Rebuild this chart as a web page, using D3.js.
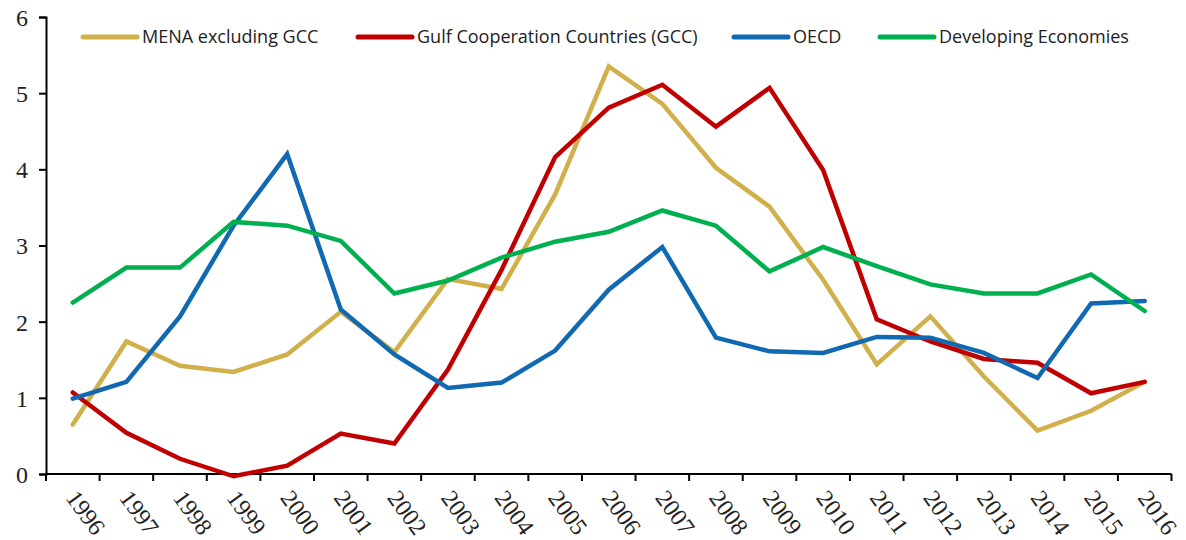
<!DOCTYPE html>
<html>
<head>
<meta charset="utf-8">
<script src="https://cdn.jsdelivr.net/npm/d3@7"></script>
<style>
  body { margin: 0; background: #fff; }
  svg { display: block; }
</style>
</head>
<body>
<svg id="chart" width="1186" height="540"></svg>
<script>
// years on the x axis
var years = ["1996","1997","1998","1999","2000","2001","2002","2003","2004","2005","2006",
             "2007","2008","2009","2010","2011","2012","2013","2014","2015","2016"];

var menaExGcc = [0.65,1.74,1.42,1.34,1.57,2.13,1.60,2.56,2.43,3.67,5.35,4.86,4.02,3.51,2.55,1.44,2.07,1.28,0.57,0.83,1.21];
var gcc       = [1.07,0.54,0.20,-0.03,0.11,0.53,0.40,1.37,2.68,4.16,4.81,5.11,4.56,5.07,3.99,2.03,1.74,1.51,1.46,1.06,1.21];
var oecd      = [0.99,1.21,2.07,3.26,4.20,2.16,1.57,1.13,1.20,1.62,2.42,2.98,1.79,1.61,1.59,1.80,1.79,1.59,1.26,2.24,2.27];
var developing= [2.25,2.71,2.71,3.31,3.26,3.06,2.37,2.54,2.84,3.05,3.18,3.46,3.26,2.66,2.98,2.73,2.49,2.37,2.37,2.62,2.14];

var yTicks = [0,1,2,3,4,5,6];

var series = [
  {name: "MENA excluding GCC", values: menaExGcc, color: "#D1B04C", lx: 83},
  {name: "Gulf Cooperation Countries (GCC)", values: gcc, color: "#C00000", lx: 358},
  {name: "OECD", values: oecd, color: "#1069B1", lx: 734},
  {name: "Developing Economies", values: developing, color: "#00B050", lx: 880}
];

var svg = d3.select("#chart");
// note: "top" is a window property, so use other names
var plotLeft = 46, plotRight = 1171.5, plotTop = 17, plotBottom = 474;

var x = d3.scaleBand().domain(years).range([plotLeft, plotRight]);
var y = d3.scaleLinear().domain([0, 6]).range([plotBottom, plotTop]);

// y axis
var yAxis = svg.append("g")
  .attr("transform", "translate(" + plotLeft + ",0)")
  .call(d3.axisLeft(y).tickValues(yTicks).tickSize(7).tickPadding(11).tickFormat(d3.format("d")));
yAxis.select(".domain").attr("stroke", "#000").attr("stroke-width", 2);
yAxis.selectAll(".tick line").attr("stroke", "#000").attr("stroke-width", 2);
yAxis.selectAll("text")
  .style("font-family", "'Liberation Serif', 'DejaVu Serif', serif")
  .style("font-size", "24px")
  .attr("fill", "#222")
  .attr("dy", "0.35em");

// x axis with ticks at category boundaries
var xAxis = svg.append("g")
  .attr("transform", "translate(0," + plotBottom + ")");
xAxis.append("line")
  .attr("x1", plotLeft).attr("x2", plotRight)
  .attr("stroke", "#000").attr("stroke-width", 2);
var bounds = years.map(function(d){ return x(d); }).concat([plotRight]);
xAxis.selectAll(".xtick")
  .data(bounds)
  .enter()
  .append("line")
  .attr("class", "xtick")
  .attr("x1", function(d){ return d; })
  .attr("x2", function(d){ return d; })
  .attr("y1", 0).attr("y2", 7)
  .attr("stroke", "#000").attr("stroke-width", 2);
xAxis.selectAll(".xlabel")
  .data(years)
  .enter()
  .append("text")
  .attr("class", "xlabel")
  .attr("transform", function(d){ return "translate(" + (x(d) + x.bandwidth() / 2 - 1) + ",19) rotate(54)"; })
  .attr("text-anchor", "start")
  .attr("dy", "0.35em")
  .style("font-family", "'Liberation Serif', 'DejaVu Serif', serif")
  .style("font-size", "24px")
  .attr("fill", "#222")
  .text(function(d){ return d; });

// lines
var line = d3.line()
  .x(function(d, i){ return x(years[i]) + x.bandwidth() / 2; })
  .y(function(d){ return y(d); });

svg.selectAll(".series")
  .data(series)
  .enter()
  .append("path")
  .attr("class", "series")
  .attr("d", function(d){ return line(d.values); })
  .attr("fill", "none")
  .attr("stroke", function(d){ return d.color; })
  .attr("stroke-width", 4.5)
  .attr("stroke-linejoin", "miter")
  .attr("stroke-linecap", "round");

// legend
var legend = svg.selectAll(".legend")
  .data(series)
  .enter()
  .append("g")
  .attr("class", "legend")
  .attr("transform", function(d){ return "translate(" + d.lx + ",37)"; });
legend.append("line")
  .attr("x1", 0).attr("x2", 54)
  .attr("stroke", function(d){ return d.color; })
  .attr("stroke-width", 5)
  .attr("stroke-linecap", "round");
legend.append("text")
  .attr("x", 59)
  .attr("dy", "0.35em")
  .style("font-family", "'Open Sans', 'Noto Sans', sans-serif")
  .style("font-size", "18px")
  .attr("fill", "#222")
  .text(function(d){ return d.name; });
</script>
</body>
</html>
